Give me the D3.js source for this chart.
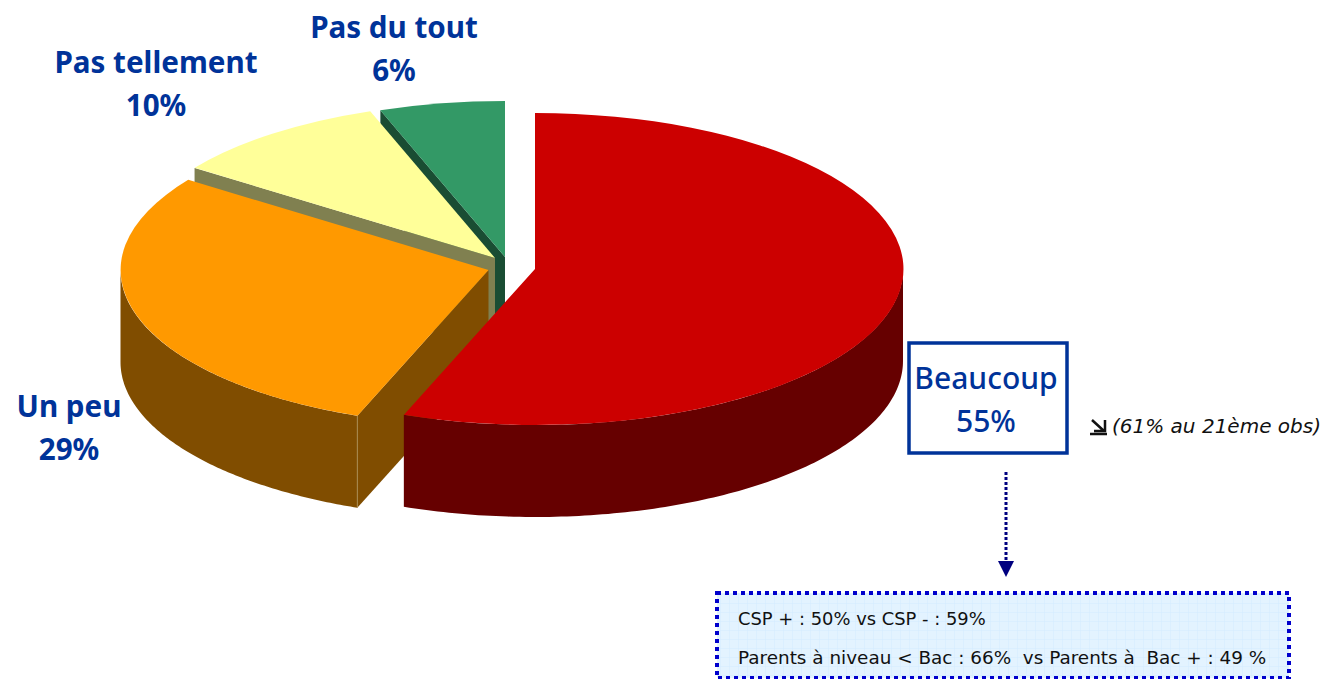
<!DOCTYPE html>
<html><head><meta charset="utf-8">
<script src="https://cdn.jsdelivr.net/npm/d3@7/dist/d3.min.js"></script>
<style>html,body{margin:0;padding:0;background:#fff;overflow:hidden}svg{display:block}
text{font-family:"Noto Sans",sans-serif}</style></head><body>
<svg id="c" width="1326" height="679"></svg>
<script>
// Data
const categories = ["Beaucoup","Un peu","Pas tellement","Pas du tout"];
const sliceShares = [55.8,29,9.7,5.5];
const labelValues = ["55%","29%","10%","6%"];
const topColors = ["#CC0000","#FF9900","#FFFF99","#339966"];
const sideColors = ["#660000","#804D00","#808050","#1A4D33"];
const notes = ["CSP + : 50% vs CSP - : 59%","Parents à niveau < Bac : 66%  vs Parents à  Bac + : 49 %"];
const trendNote = "(61% au 21ème obs)";

// Layout
const RX=368, RY=156, DEPTH=92;
const centers=[[535,269],[488.5,270],[495,258],[505,257]];
const labelPos=[[986,389],[69,417],[156,73],[394,38]];
const labelSizes=[30,29.6,29.6,29.6];
const svg=d3.select("#c");
const defs=svg.append("defs");
const pat=defs.append("pattern").attr("id","grid").attr("width",9).attr("height",9).attr("patternUnits","userSpaceOnUse");
pat.append("rect").attr("width",9).attr("height",9).attr("fill","#E3F3FF");
pat.append("path").attr("d","M9 0H0V9").attr("fill","none").attr("stroke","#D3ECFF").attr("stroke-width",1);

const pie=d3.pie().sort(null).value(d=>d)(sliceShares);
const pt=(i,a,dz=0)=>[centers[i][0]+RX*Math.sin(a), centers[i][1]-RY*Math.cos(a)+dz];
const line=d3.line();
const arcGen=d3.arc().innerRadius(0).outerRadius(1);

// Paint back to front: green, yellow, orange, red
[3,2,1,0].forEach(i=>{
  const p=pie[i], g=svg.append("g");
  const a0=p.startAngle,a1=p.endAngle;
  const lo=Math.max(a0,Math.PI/2), hi=Math.min(a1,Math.PI*1.5);
  if(hi>lo){
    const as=d3.range(0,121).map(k=>lo+(hi-lo)*k/120);
    const pts=as.map(a=>pt(i,a)).concat(as.slice().reverse().map(a=>pt(i,a,DEPTH)));
    g.append("path").attr("d",line(pts)+"Z").attr("fill",sideColors[i]);
  }
  const c=centers[i];
  const e = (i===0)? null : pt(i,a0);
  if(e){
    g.append("path").attr("d",line([c,e,[e[0],e[1]+DEPTH],[c[0],c[1]+DEPTH]])+"Z").attr("fill",sideColors[i]);
  }
  if(i===1){
    g.append("line").attr("x1",e[0]).attr("x2",e[0]).attr("y1",e[1]).attr("y2",e[1]+DEPTH)
      .attr("stroke","#A88A50").attr("stroke-width",1);
  }
  g.append("path").attr("transform",`translate(${c[0]},${c[1]}) scale(${RX},${RY})`)
    .attr("d",arcGen({startAngle:a0,endAngle:a1})).attr("fill",topColors[i]);
});

// Labels
categories.forEach((name,i)=>{
  const t=svg.append("text").attr("text-anchor","middle").attr("fill","#003399")
    .attr("font-weight",i===0?500:700).attr("font-size",labelSizes[i]);
  t.append("tspan").attr("x",labelPos[i][0]).attr("y",labelPos[i][1]).text(name);
  t.append("tspan").attr("x",labelPos[i][0]).attr("y",labelPos[i][1]+43).text(labelValues[i]);
});
svg.append("rect").attr("x",909).attr("y",343).attr("width",158).attr("height",110)
  .attr("fill","none").attr("stroke","#003399").attr("stroke-width",3.5);

// Trend note
svg.append("path").attr("d","M1092 420L1104 431M1105 420V431H1094M1090 434H1107").attr("fill","none")
  .attr("stroke","#111").attr("stroke-width",2.5);
svg.append("text").attr("x",1112).attr("y",433).attr("font-size",20).attr("font-style","italic")
  .style("font-family","'DejaVu Sans',sans-serif").attr("fill","#111").text(trendNote);

// Dotted arrow
svg.append("line").attr("x1",1006).attr("x2",1006).attr("y1",472).attr("y2",562)
  .attr("stroke","#000080").attr("stroke-width",3).attr("stroke-dasharray","3 2");
svg.append("path").attr("d","M998 561H1014L1006 577Z").attr("fill","#000080");

// Note box
svg.append("rect").attr("x",717).attr("y",593).attr("width",572).attr("height",85)
  .attr("fill","url(#grid)").attr("stroke","#0000CC").attr("stroke-width",4).attr("stroke-dasharray","4 4");
notes.forEach((n,i)=>svg.append("text").attr("x",738).attr("y",[625,664][i]).attr("font-size",[17.9,18.4][i])
  .style("font-family","'DejaVu Sans',sans-serif")
  .attr("fill","#111").style("white-space","pre").text(n));
</script></body></html>
